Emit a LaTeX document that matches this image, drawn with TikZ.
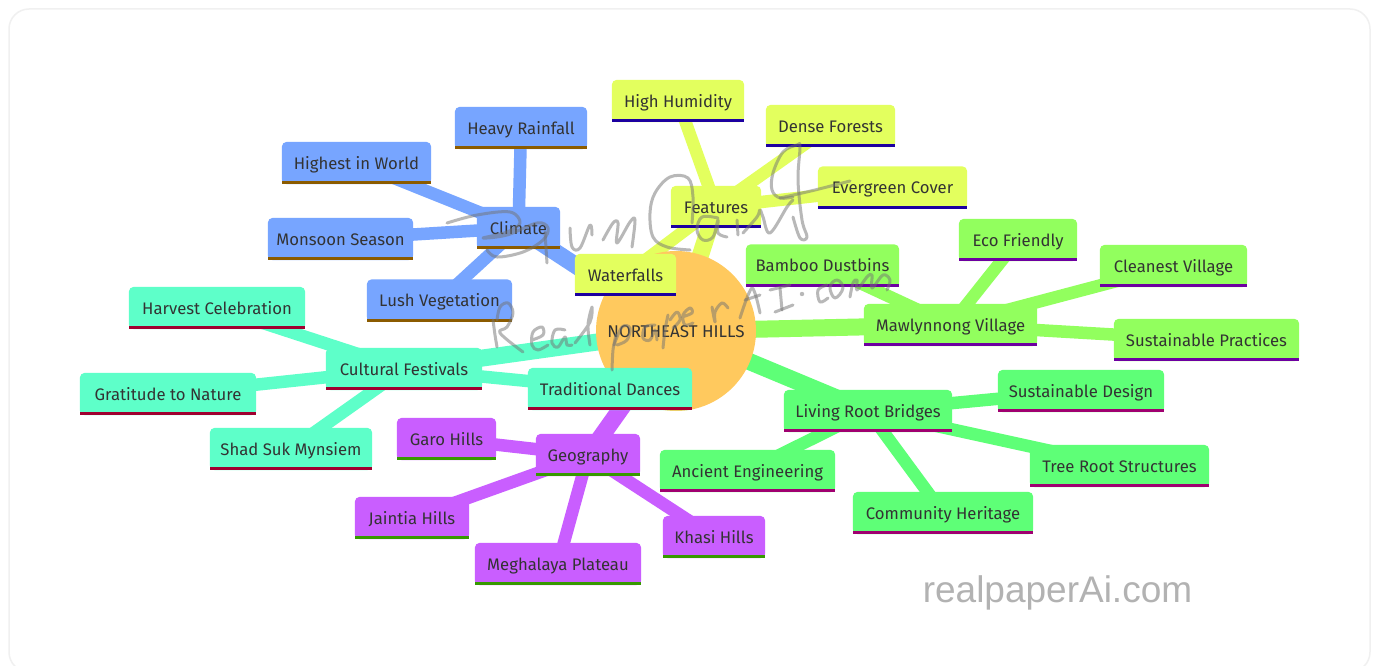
\documentclass[tikz,border=0pt]{standalone}
\usepackage{fontspec}
\setmainfont{Fira Sans}
\newfontfamily\wmfont{Liberation Sans}
\pgfdeclarelayer{framelayer}
\pgfdeclarelayer{edgelayer}
\pgfdeclarelayer{inklayer}
\pgfsetlayers{framelayer,edgelayer,main,inklayer}
\definecolor{txt}{HTML}{333333}
\definecolor{cRoot}{HTML}{FFC95E}
\definecolor{cClim}{HTML}{77A5FF}\definecolor{lClim}{HTML}{8B5B00}
\definecolor{cFeat}{HTML}{E3FF5E}\definecolor{lFeat}{HTML}{1C00A0}
\definecolor{cMawl}{HTML}{92FF5E}\definecolor{lMawl}{HTML}{6D00A0}
\definecolor{cLive}{HTML}{5EFF77}\definecolor{lLive}{HTML}{A00070}
\definecolor{cFest}{HTML}{5EFFC9}\definecolor{lFest}{HTML}{A00030}
\definecolor{cGeog}{HTML}{C95EFF}\definecolor{lGeog}{HTML}{369900}
\tikzset{
  x=1pt,y=-1pt,
  mm/.style 2 args={rectangle,text=txt,font=\fontsize{16.7}{19}\selectfont,
    inner sep=0pt,minimum height=42pt,text height=14.5pt,text depth=2pt,
    append after command={
      \pgfextra{
        \fill[#1,rounded corners=5pt] (\tikzlastnode.south west) rectangle (\tikzlastnode.north east);
        \fill[#1] ([yshift=8pt]\tikzlastnode.south west) rectangle (\tikzlastnode.south east);
        \fill[#2] ([yshift=3pt]\tikzlastnode.south west) rectangle (\tikzlastnode.south east);
      }}},
  clim/.style={mm={cClim}{lClim}}, feat/.style={mm={cFeat}{lFeat}},
  mawl/.style={mm={cMawl}{lMawl}}, live/.style={mm={cLive}{lLive}},
  fest/.style={mm={cFest}{lFest}}, geog/.style={mm={cGeog}{lGeog}},
  rootnode/.style={circle,fill=cRoot,text=txt,font=\fontsize{17}{19}\selectfont,inner sep=0pt,minimum size=160pt,text height=14.5pt,text depth=2pt},
  trunk/.style={line width=17pt},
  twig/.style={line width=12.5pt},
  ink/.style={draw=black!55,fill=black!55,line width=3pt,opacity=.5,line cap=round,line join=round},
}
\begin{document}
\begin{tikzpicture}
\clip (0,0) rectangle (1374,666);
\begin{pgfonlayer}{framelayer}
\fill[white] (0,0) rectangle (1374,666);
\draw[draw=black!6,line width=1.5pt,rounded corners=20pt,fill=white] (9,9) rectangle (1370,672);
\end{pgfonlayer}

\node[rootnode] (root) at (676,331) {NORTHEAST HILLS};
% Climate
\node[clim,minimum width=83pt] (climate) at (518.5,228) {Climate};
\node[clim,minimum width=132pt] (rain) at (521,128) {Heavy Rainfall};
\node[clim,minimum width=149pt] (highest) at (356.5,163) {Highest in World};
\node[clim,minimum width=145pt] (monsoon) at (340.5,239) {Monsoon Season};
\node[clim,minimum width=145pt] (lush) at (439.5,300.5) {Lush Vegetation};
% Features
\node[feat,minimum width=90pt] (features) at (716,207) {Features};
\node[feat,minimum width=132pt] (humid) at (678,101) {High Humidity};
\node[feat,minimum width=129pt] (dense) at (830.5,126) {Dense Forests};
\node[feat,minimum width=149pt] (ever) at (892.5,187.5) {Evergreen Cover};
\node[feat,minimum width=101pt] (water) at (625.5,275) {Waterfalls};
% Mawlynnong
\node[mawl,minimum width=173pt] (mawlyn) at (950.5,325) {Mawlynnong Village};
\node[mawl,minimum width=153pt] (bamboo) at (822.5,265.5) {Bamboo Dustbins};
\node[mawl,minimum width=118pt] (eco) at (1018,240) {Eco Friendly};
\node[mawl,minimum width=147pt] (clean) at (1173.5,266) {Cleanest Village};
\node[mawl,minimum width=185pt] (pract) at (1206.5,340) {Sustainable Practices};
% Living Root Bridges
\node[live,minimum width=168pt] (living) at (868,411) {Living Root Bridges};
\node[live,minimum width=166pt] (design) at (1081,391) {Sustainable Design};
\node[live,minimum width=179pt] (tree) at (1119.5,466) {Tree Root Structures};
\node[live,minimum width=180pt] (commun) at (943,513) {Community Heritage};
\node[live,minimum width=175pt] (ancient) at (747.5,471) {Ancient Engineering};
% Geography
\node[geog,minimum width=104pt] (geo) at (588,455) {Geography};
\node[geog,minimum width=99pt] (garo) at (446.5,439) {Garo Hills};
\node[geog,minimum width=114pt] (jaintia) at (412,518) {Jaintia Hills};
\node[geog,minimum width=166pt] (megh) at (558,564) {Meghalaya Plateau};
\node[geog,minimum width=102pt] (khasi) at (714,537) {Khasi Hills};
% Festivals
\node[fest,minimum width=156pt] (cult) at (404,369) {Cultural Festivals};
\node[fest,minimum width=164pt] (dances) at (610,389) {Traditional Dances};
\node[fest,minimum width=176pt] (harvest) at (217,308) {Harvest Celebration};
\node[fest,minimum width=176pt] (grat) at (168,394) {Gratitude to Nature};
\node[fest,minimum width=162pt] (shad) at (291,449) {Shad Suk Mynsiem};

\node[text=black!30,font=\wmfont\fontsize{37}{40}\selectfont,anchor=base] (site) at (1057.5,602.5) {realpaperAi.com};

\begin{pgfonlayer}{edgelayer}
\draw[trunk,cClim] (root.center) -- (climate.center);
\draw[trunk,cFeat] (root.center) -- (features.center);
\draw[trunk,cMawl] (root.center) -- (mawlyn.center);
\draw[trunk,cLive] (root.center) -- (living.center);
\draw[trunk,cGeog] (root.center) -- (geo.center);
\draw[trunk,cFest] (root.center) -- (cult.center);
\foreach \k in {rain,highest,monsoon,lush} \draw[twig,cClim] (climate.center) -- (\k.center);
\foreach \k in {humid,dense,ever,water} \draw[twig,cFeat] (features.center) -- (\k.center);
\foreach \k in {bamboo,eco,clean,pract} \draw[twig,cMawl] (mawlyn.center) -- (\k.center);
\foreach \k in {design,tree,commun,ancient} \draw[twig,cLive] (living.center) -- (\k.center);
\foreach \k in {garo,jaintia,megh,khasi} \draw[twig,cGeog] (geo.center) -- (\k.center);
\foreach \k in {dances,harvest,grat,shad} \draw[twig,cFest] (cult.center) -- (\k.center);
\end{pgfonlayer}

\begin{pgfonlayer}{inklayer}
\begin{scope}[ink]
% signature
\draw plot[smooth,tension=.6] coordinates {(447,223)(477,215)(510,212)(520,223)(507,232)(483,238)(507,235)(537,223)(548,228)(543,240)(523,252)(497,257)(487,250)};
\draw plot[smooth] coordinates {(545,232)(546,248)(547,263)};
\draw plot[smooth,tension=.6] coordinates {(570,228)(572,247)(580,248)(590,225)(592,235)};
\draw plot[smooth,tension=.6] coordinates {(603,240)(613,223)(618,223)(617,243)(630,222)(635,220)(632,247)};
\draw plot[smooth,tension=.6] coordinates {(692,223)(693,197)(688,178)(670,177)(655,193)(650,213)(653,237)(667,247)(690,250)};
\draw plot[smooth,tension=.6] coordinates {(718,218)(702,217)(697,230)(703,240)(713,237)(718,220)(718,233)(727,237)};
\draw plot[smooth] coordinates {(737,220)(738,235)};
\draw plot[smooth,tension=.6] coordinates {(743,233)(757,217)(760,210)(763,217)(770,233)(787,207)(793,200)};
\draw plot[smooth,tension=.6] coordinates {(793,197)(780,198)(772,190)(773,173)(783,152)(797,145)(800,147)(798,180)(802,220)(807,237)(800,238)(793,217)};
\draw plot[smooth,tension=.6] coordinates {(780,198)(815,190)(850,181)};
% handwritten name
\draw plot[smooth] coordinates {(493,320)(495,335)(497,347)};
\draw plot[smooth,tension=.6] coordinates {(497,320)(500,307)(508,303)(513,313)(507,327)(500,333)(523,352)};
\draw plot[smooth,tension=.6] coordinates {(532,340)(543,335)(542,327)(533,332)(532,345)(538,350)(548,345)};
\draw plot[smooth,tension=.6] coordinates {(565,330)(555,330)(552,343)(558,347)(565,337)(567,345)(572,345)};
\draw plot[smooth,tension=.6] coordinates {(575,343)(590,322)(592,307)(588,325)(590,345)};
\draw plot[smooth] coordinates {(612,370)(613,350)(616,335)};
\draw plot[smooth,tension=.6] coordinates {(614,345)(622,327)(630,328)(627,340)(617,345)};
\draw plot[smooth,tension=.6] coordinates {(655,325)(645,327)(643,338)(650,340)(655,330)(657,340)};
\draw plot[smooth] coordinates {(663,348)(665,330)(668,315)};
\draw plot[smooth,tension=.6] coordinates {(670,320)(677,312)(680,320)(673,328)};
\draw plot[smooth,tension=.6] coordinates {(682,317)(692,313)(690,308)(683,315)(685,325)(693,323)};
\draw plot[smooth,tension=.6] coordinates {(712,307)(715,322)(715,312)(722,303)(728,308)};
\draw plot[smooth] coordinates {(740,318)(752,288)(760,313)};
\draw plot[smooth] coordinates {(745,300)(760,295)};
\draw plot[smooth] coordinates {(770,290)(790,285)};
\draw plot[smooth] coordinates {(780,288)(782,310)};
\draw plot[smooth] coordinates {(775,312)(793,305)};
\fill[draw=none] (802,294) circle (2.2);
\draw plot[smooth,tension=.6] coordinates {(827,285)(818,290)(820,302)(828,298)};
\draw plot[smooth cycle,tension=.7] coordinates {(837,280)(830,287)(835,298)(843,288)};
\draw plot[smooth,tension=.6] coordinates {(850,297)(853,283)(857,280)(857,290)(867,277)(872,275)(872,288)(883,275)(890,280)(887,290)};
\end{scope}
\end{pgfonlayer}
\end{tikzpicture}
\end{document}
